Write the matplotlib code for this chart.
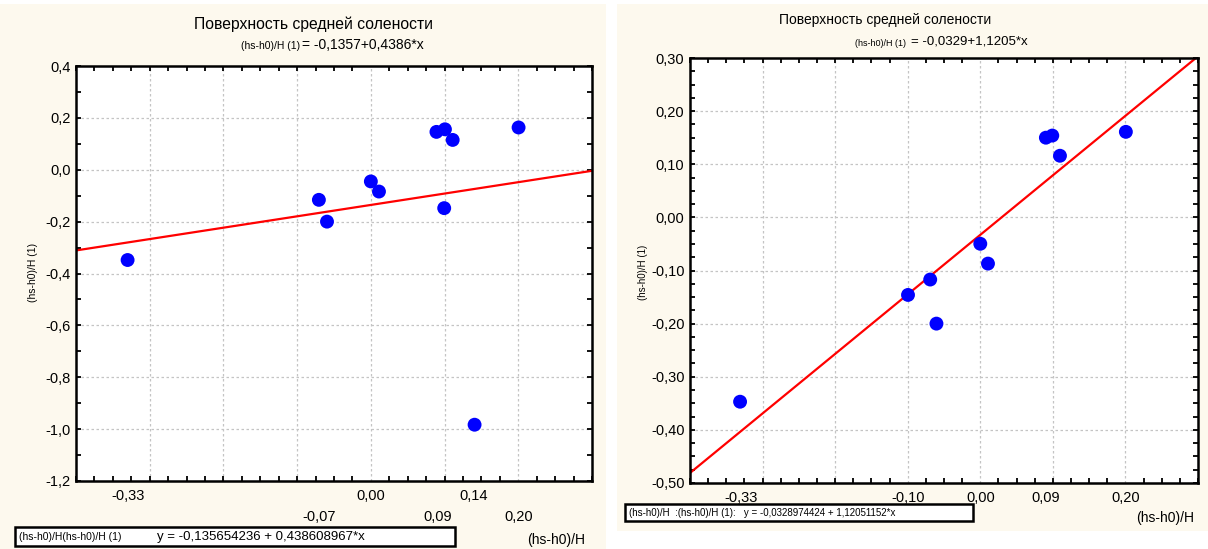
import numpy as np
import matplotlib
matplotlib.use("Agg")
import matplotlib.pyplot as plt
from matplotlib.patches import Rectangle
from matplotlib.ticker import MultipleLocator, FuncFormatter, FixedLocator

plt.rcParams['font.family'] = ['Liberation Sans', 'DejaVu Sans']

# ---------------- data ----------------
title = "Поверхность средней солености"
x_label = "(hs-h0)/H"
y_label = "(hs-h0)/H (1)"

left_x = [-0.330, -0.0705, -0.0595, 0.000, 0.011, 0.089, 0.1005, 0.111, 0.0995, 0.1407, 0.2004]
left_y = [-0.348, -0.116, -0.200, -0.045, -0.084, 0.146, 0.156, 0.115, -0.148, -0.983, 0.163]
left_intercept = -0.135654236
left_slope = 0.438608967
left_eq_short = "= -0,1357+0,4386*x"
left_eq_long = "y = -0,135654236 + 0,438608967*x"
left_legend_prefix = "(hs-h0)/H(hs-h0)/H (1)"
left_xticks_upper = [-0.33, 0.00, 0.14]
left_xticks_lower = [-0.07, 0.09, 0.20]
left_yticks = [0.4, 0.2, 0.0, -0.2, -0.4, -0.6, -0.8, -1.0, -1.2]

right_x = [-0.331, -0.0996, -0.069, -0.0604, 0.000, 0.0106, 0.0904, 0.0992, 0.1098, 0.2006]
right_y = [-0.347, -0.146, -0.117, -0.200, -0.0497, -0.087, 0.150, 0.154, 0.116, 0.161]
right_intercept = -0.0328974424
right_slope = 1.12051152
right_eq_short = "= -0,0329+1,1205*x"
right_legend = "(hs-h0)/H  :(hs-h0)/H (1):   y = -0,0328974424 + 1,12051152*x"
right_xticks = [-0.33, -0.10, 0.00, 0.09, 0.20]
right_yticks = [0.30, 0.20, 0.10, 0.00, -0.10, -0.20, -0.30, -0.40, -0.50]

# ---------------- figure ----------------
W, H = 1208, 549
fig = plt.figure(figsize=(W / 100, H / 100), dpi=100)
fig.patch.set_facecolor('white')
CREAM = '#FDF9EE'


def fx(x):
    return x / W


def fy(y):
    return 1 - y / H


def panel(x0, y0, x1, y1):
    fig.add_artist(Rectangle((fx(x0), fy(y1)), fx(x1) - fx(x0), fy(y0) - fy(y1),
                             transform=fig.transFigure, facecolor=CREAM,
                             edgecolor='none', zorder=0))


def box(x0, y0, x1, y1):
    fig.add_artist(Rectangle((fx(x0), fy(y1)), fx(x1) - fx(x0), fy(y0) - fy(y1),
                             transform=fig.transFigure, facecolor='white',
                             edgecolor='black', linewidth=1.8, zorder=2))


def comma(fmt):
    def f(v, pos):
        if abs(v) < 1e-9:
            v = 0.0
        return (fmt % v).replace('.', ',')
    return FuncFormatter(f)


panel(0, 4, 606, 549)
panel(617, 4, 1208, 531)


def make_axes(px, xs, ys, intercept, slope, yticks, yfmt, yminor):
    l, t, r, b = px
    ax = fig.add_axes([fx(l), fy(b), fx(r) - fx(l), fy(t) - fy(b)])
    ax.set_facecolor('white')
    ax.set_xlim(-0.4, 0.3)
    ax.set_ylim(min(yticks), max(yticks))
    # grid lines
    for gx in np.arange(-0.3, 0.25, 0.1):
        ax.axvline(gx, color='#C4C4C4', lw=0.9, ls=(0, (2, 2)), zorder=0)
    for gy in yticks[1:-1]:
        ax.axhline(gy, color='#C4C4C4', lw=0.9, ls=(0, (2, 2)), zorder=0)
    # regression line
    lx = np.array([-0.4, 0.3])
    ax.plot(lx, intercept + slope * lx, color='#FF0000', lw=1.6, zorder=2)
    # points
    ax.scatter(xs, ys, s=100, color='#0000FF', edgecolors='none', zorder=3, clip_on=False)
    for sp in ax.spines.values():
        sp.set_linewidth(1.8)
    ax.yaxis.set_major_locator(FixedLocator(yticks))
    ax.yaxis.set_major_formatter(comma(yfmt))
    ax.yaxis.set_minor_locator(MultipleLocator(yminor))
    ax.xaxis.set_minor_locator(MultipleLocator(0.025))
    ax.tick_params(axis='y', which='both', direction='in', left=True, right=True,
                   length=3.5, width=1.3, labelsize=10.5, pad=4)
    ax.tick_params(axis='x', which='minor', direction='in', top=True, bottom=True,
                   length=3.5, width=1.3)
    ax.tick_params(axis='x', which='major', length=0, labelsize=10.5)
    return ax


# ---------- left chart ----------
axL = make_axes((76, 66, 592, 481), left_x, left_y, left_intercept, left_slope,
                left_yticks, '%.1f', 0.1)
lt = left_xticks_upper + left_xticks_lower
axL.set_xticks(lt)
axL.set_xticklabels([comma('%.2f')(v, None) for v in lt])
for i, tk in enumerate(axL.xaxis.get_major_ticks()):
    tk.set_pad(6 if i < len(left_xticks_upper) else 21)

fig.text(fx(313), fy(24), title, ha='center', va='center', fontsize=11.3)
fig.text(fx(300), fy(46), y_label, ha='right', va='center', fontsize=7.5)
fig.text(fx(302), fy(45), left_eq_short, ha='left', va='center', fontsize=10)
fig.text(fx(33), fy(272), y_label, rotation=90, ha='center', va='center', fontsize=7.5)
fig.text(fx(585), fy(540), x_label, ha='right', va='center', fontsize=10)
box(15, 527, 455, 546)
fig.text(fx(19), fy(537), left_legend_prefix, ha='left', va='center', fontsize=7.5, zorder=3)
fig.text(fx(157), fy(537), left_eq_long, ha='left', va='center', fontsize=9.5, zorder=3)

# ---------- right chart ----------
axR = make_axes((690, 58, 1198, 483), right_x, right_y, right_intercept, right_slope,
                right_yticks, '%.2f', 0.025)
axR.set_xticks(right_xticks)
axR.set_xticklabels([comma('%.2f')(v, None) for v in right_xticks])
for tk in axR.xaxis.get_major_ticks():
    tk.set_pad(6)

fig.text(fx(885), fy(20), title, ha='center', va='center', fontsize=10)
fig.text(fx(906), fy(43), y_label, ha='right', va='center', fontsize=6.5)
fig.text(fx(911), fy(42), right_eq_short, ha='left', va='center', fontsize=9.5)
fig.text(fx(643), fy(272), y_label, rotation=90, ha='center', va='center', fontsize=7)
fig.text(fx(1194), fy(518), x_label, ha='right', va='center', fontsize=10)
box(625, 504, 973, 521)
fig.text(fx(629), fy(512.5), right_legend, ha='left', va='center', fontsize=7, zorder=3)

fig.savefig('out.png', dpi=100, facecolor='white')
